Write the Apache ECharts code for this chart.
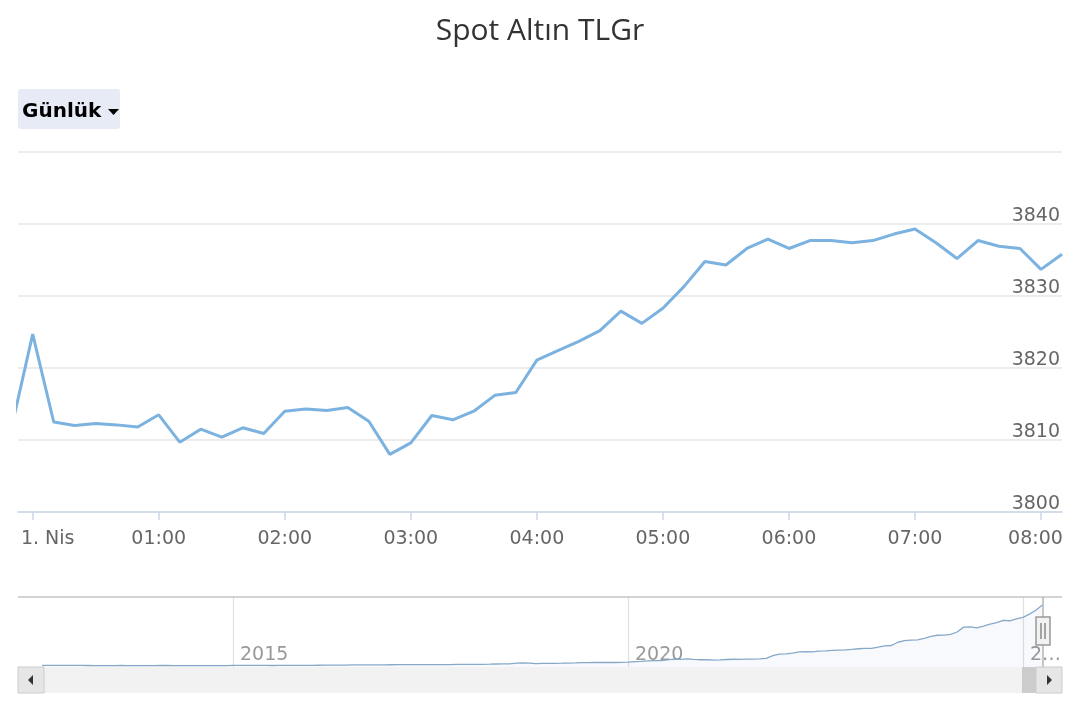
<!DOCTYPE html>
<html><head><meta charset="utf-8">
<script src="https://cdn.jsdelivr.net/npm/echarts@6/dist/echarts.min.js"></script>
<style>html,body{margin:0;padding:0;background:#fff}#c{width:1080px;height:720px}</style>
</head><body><div id="c"></div>
<script>
const chartTitle = 'Spot Altın TLGr';
const rangeLabel = 'Günlük';
const firstDayLabel = '1. Nis';

// intraday series (10-minute steps), times as HH:MM, 23:50 belongs to the previous day
const times = [
  '23:50',
  '00:00','00:10','00:20','00:30','00:40','00:50',
  '01:00','01:10','01:20','01:30','01:40','01:50',
  '02:00','02:10','02:20','02:30','02:40','02:50',
  '03:00','03:10','03:20','03:30','03:40','03:50',
  '04:00','04:10','04:20','04:30','04:40','04:50',
  '05:00','05:10','05:20','05:30','05:40','05:50',
  '06:00','06:10','06:20','06:30','06:40','06:50',
  '07:00','07:10','07:20','07:30','07:40','07:50',
  '08:00','08:10'
];
const prices = [
  3811.8,
  3824.7, 3812.5, 3812.0, 3812.3, 3812.1, 3811.8,
  3813.5, 3809.7, 3811.5, 3810.4, 3811.7, 3810.9,
  3814.0, 3814.3, 3814.1, 3814.5, 3812.6, 3808.0,
  3809.6, 3813.4, 3812.8, 3814.0, 3816.2, 3816.6,
  3821.1, 3822.4, 3823.7, 3825.2, 3827.9, 3826.2,
  3828.3, 3831.3, 3834.8, 3834.3, 3836.6, 3837.9,
  3836.6, 3837.7, 3837.7, 3837.4, 3837.7, 3838.6,
  3839.3, 3837.4, 3835.2, 3837.7, 3836.9, 3836.6,
  3833.7, 3835.8
];
const hourTicks = ['00:00','01:00','02:00','03:00','04:00','05:00','06:00','07:00','08:00'];
const xMinTime = '-00:07';
const xMaxTime = '08:10';
const yMin = 3800, yMax = 3850, yStep = 10;

// navigator (monthly history, first of each month)
const navStartYear = 2012, navStartMonth = 8;
const navByYear = [
  [95, 99, 100, 99, 97],
  [96, 95, 93, 88, 84, 81, 84, 91, 88, 86, 85, 83],
  [90, 94, 93, 88, 87, 88, 87, 88, 88, 88, 86, 89],
  [97, 98, 96, 94, 95, 95, 92, 97, 101, 101, 97, 98],
  [101, 109, 114, 116, 115, 119, 128, 129, 129, 130, 131, 132],
  [139, 141, 141, 143, 143, 143, 142, 146, 147, 152, 162, 158],
  [158, 159, 163, 171, 183, 186, 188, 240, 246, 232, 212, 219],
  [221, 226, 232, 240, 250, 268, 270, 282, 276, 280, 277, 288],
  [300, 326, 346, 375, 392, 392, 432, 490, 470, 505, 466, 445],
  [445, 420, 432, 460, 476, 472, 478, 486, 497, 530, 700, 790],
  [810, 850, 935, 950, 930, 970, 985, 1020, 1040, 1050, 1080, 1120],
  [1150, 1150, 1220, 1300, 1320, 1520, 1620, 1650, 1670, 1760, 1880, 1950],
  [1960, 2000, 2150, 2450, 2470, 2400, 2510, 2640, 2730, 2860, 2840, 2960],
  [3050, 3250, 3500, 3830]
];
const navYearTicks = [2015, 2020, 2025];
const navXMin = 2012.278, navXMax = 2025.494;
const navYMax = 4300;

function minutes(t) {
  const neg = t.charAt(0) === '-';
  const p = t.replace('-', '').split(':');
  const m = (+p[0]) * 60 + (+p[1]);
  if (neg) return -m;
  return (+p[0]) >= 12 ? m - 1440 : m; // late evening = previous day
}

const navData = [];
navByYear.forEach(function (vals, yi) {
  const year = navStartYear + yi;
  vals.forEach(function (v, mi) {
    const m = (yi === 0 ? navStartMonth : 1) + mi;
    navData.push([year + (m - 1) / 12, v]);
  });
});

const FONT = 'DejaVu Sans';
const chart = echarts.init(document.getElementById('c'), null, {renderer: 'canvas'});

chart.setOption({
  animation: false,
  backgroundColor: '#ffffff',
  title: {
    text: chartTitle, left: 'center', top: 11,
    textStyle: {fontFamily: 'Open Sans', fontSize: 30, fontWeight: 'normal', color: '#333333'}
  },
  grid: [
    {left: 18, right: 18, top: 152, bottom: 208, containLabel: false},
    {left: 18, right: 18, top: 597, bottom: 53, containLabel: false}
  ],
  xAxis: [{
    type: 'value', gridIndex: 0, min: minutes(xMinTime), max: minutes(xMaxTime),
    axisLine: {show: true, lineStyle: {color: '#ccd6eb', width: 1.5}},
    axisTick: {show: true, length: 8, customValues: hourTicks.map(minutes), lineStyle: {color: '#ccd6eb', width: 1.5}},
    splitLine: {show: false},
    axisLabel: {
      customValues: hourTicks.map(minutes), margin: 18, color: '#666666', fontSize: 19, fontFamily: FONT,
      formatter: function (v) {
        const h = Math.round(v / 60);
        if (h === 0) return '{first|' + firstDayLabel + '}';
        const s = (h < 10 ? '0' : '') + h + ':00';
        return h === 8 ? '{last|' + s + '}' : s;
      },
      rich: {
        first: {padding: [0, 0, 0, 30], color: '#666666', fontSize: 19, fontFamily: FONT},
        last: {padding: [0, 11, 0, 0], color: '#666666', fontSize: 19, fontFamily: FONT}
      }
    }
  }, {
    type: 'value', gridIndex: 1, min: navXMin, max: navXMax,
    axisLine: {show: false},
    axisTick: {show: false, customValues: navYearTicks},
    splitLine: {show: true, lineStyle: {color: '#e0e0e0', width: 1.2}},
    axisLabel: {
      customValues: navYearTicks, inside: true, margin: 2, align: 'left',
      padding: [0, 0, 0, 7], color: '#999999', fontSize: 19, fontFamily: FONT,
      formatter: function (v) { return v >= 2025 ? '2…' : String(v); }
    }
  }],
  yAxis: [{
    type: 'value', gridIndex: 0, position: 'right', min: yMin, max: yMax, interval: yStep,
    axisLine: {show: false}, axisTick: {show: false},
    splitLine: {show: true, lineStyle: {color: '#e6e6e6', width: 1.5}},
    axisLabel: {inside: true, margin: 2, verticalAlign: 'bottom', showMaxLabel: false, lineHeight: 15,
      color: '#666666', fontSize: 19, fontFamily: FONT,
      formatter: function (v) { return String(v); }}
  }, {
    type: 'value', gridIndex: 1, min: 0, max: navYMax, show: false, splitLine: {show: false}
  }],
  series: [{
    type: 'line', xAxisIndex: 0, yAxisIndex: 0,
    data: times.map(function (t, i) { return [minutes(t), prices[i]]; }),
    showSymbol: false, symbol: 'none', clip: true,
    lineStyle: {color: '#7cb2e0', width: 3},
    z: 3
  }, {
    type: 'line', xAxisIndex: 1, yAxisIndex: 1, data: navData,
    showSymbol: false, symbol: 'none',
    lineStyle: {color: '#86a9c8', width: 1.3},
    areaStyle: {color: 'rgba(51,92,173,0.05)'},
    z: 2
  }]
});

const lastX = navData[navData.length - 1][0];
const hx = Math.round(chart.convertToPixel({xAxisIndex: 1}, lastX));
const navTop = 597, navBot = 667, sbH = 26, L = 18, R = 1062;
const thumbEnd = Math.min(hx, R - 26);

chart.setOption({
  graphic: [
    {type: 'rect', shape: {x: 18, y: 89, width: 102, height: 40, r: 3}, style: {fill: '#e6ebf5'}, z: 10},
    {type: 'text', x: 22, y: 112, style: {text: rangeLabel, fontFamily: FONT, fontWeight: 'bold', fontSize: 20,
      fill: '#000000', verticalAlign: 'middle', align: 'left'}, z: 11},
    {type: 'polygon', shape: {points: [[108, 109], [119, 109], [113.5, 115]]}, style: {fill: '#000000'}, z: 11},
    {type: 'line', shape: {x1: L, y1: navTop, x2: R, y2: navTop}, style: {stroke: '#c4c4c4', lineWidth: 1.5}, z: 10},
    {type: 'line', shape: {x1: hx, y1: navTop, x2: hx, y2: navBot}, style: {stroke: '#b5b5b5', lineWidth: 1.5}, z: 10},
    {type: 'rect', shape: {x: L, y: navBot, width: R - L, height: sbH}, style: {fill: '#f2f2f2'}, z: 10},
    {type: 'rect', shape: {x: thumbEnd - 14, y: navBot, width: 14, height: sbH}, style: {fill: '#cccccc'}, z: 11},
    {type: 'rect', shape: {x: L, y: navBot, width: 26, height: sbH}, style: {fill: '#e6e6e6', stroke: '#cccccc', lineWidth: 1}, z: 12},
    {type: 'polygon', shape: {points: [[33, 675], [28, 680], [33, 685]]}, style: {fill: '#333333'}, z: 13},
    {type: 'rect', shape: {x: R - 26, y: navBot, width: 26, height: sbH}, style: {fill: '#e6e6e6', stroke: '#cccccc', lineWidth: 1}, z: 12},
    {type: 'polygon', shape: {points: [[1047, 675], [1052, 680], [1047, 685]]}, style: {fill: '#333333'}, z: 13},
    {type: 'rect', shape: {x: hx - 7, y: 617, width: 14, height: 28}, style: {fill: '#f2f2f2', stroke: '#999999', lineWidth: 1.5}, z: 14},
    {type: 'line', shape: {x1: hx - 2, y1: 623, x2: hx - 2, y2: 639}, style: {stroke: '#555555', lineWidth: 1}, z: 15},
    {type: 'line', shape: {x1: hx + 2, y1: 623, x2: hx + 2, y2: 639}, style: {stroke: '#555555', lineWidth: 1}, z: 15}
  ]
});
</script>
</body></html>
